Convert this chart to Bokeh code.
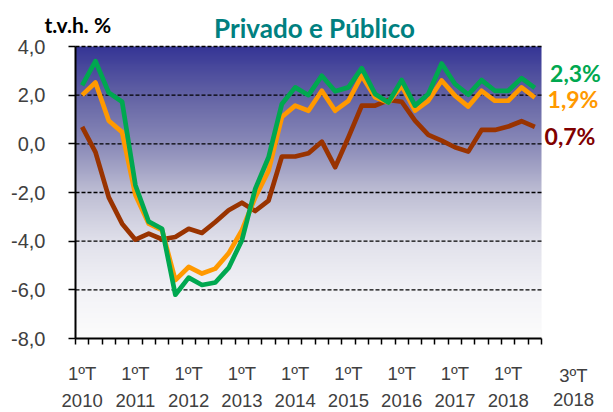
import numpy as np
from bokeh.plotting import figure
from bokeh.models import Range1d, FixedTicker, Label
from bokeh.embed import file_html
from bokeh.resources import INLINE

# Quarterly data 1ºT 2010 .. 3ºT 2018
quarters = [f"{q}ºT {y}" for y in range(2010, 2019) for q in range(1, 5)][:35]

total = [2.4, 3.4, 2.1, 1.73, -1.7, -3.2, -3.49, -6.2, -5.5, -5.8, -5.7, -5.1,
         -3.96, -1.85, -0.55, 1.64, 2.32, 2.0, 2.8, 2.16, 2.32, 3.11, 2.05, 1.7,
         2.62, 1.57, 2.05, 3.3, 2.46, 2.02, 2.62, 2.18, 2.18, 2.7, 2.3]
privado = [2.0, 2.52, 0.95, 0.48, -2.1, -3.28, -3.55, -5.6, -5.06, -5.33, -5.13, -4.5,
           -3.55, -2.2, -1.1, 1.1, 1.57, 1.36, 2.18, 1.36, 1.77, 2.8, 1.91, 1.7,
           2.39, 1.36, 1.77, 2.6, 1.98, 1.53, 2.18, 1.77, 1.77, 2.32, 1.9]
publico = [0.7, -0.34, -2.2, -3.28, -3.94, -3.69, -3.92, -3.83, -3.49, -3.66, -3.21, -2.73,
           -2.42, -2.76, -2.33, -0.52, -0.52, -0.39, 0.09, -0.96, 0.27, 1.57, 1.57, 1.8,
           1.73, 0.95, 0.37, 0.13, -0.14, -0.32, 0.57, 0.57, 0.71, 0.93, 0.7]

end_labels = ["2,3%", "1,9%", "0,7%"]
y_ticks = [-8, -6, -4, -2, 0, 2, 4]
y_tick_labels = ["-8,0", "-6,0", "-4,0", "-2,0", "0,0", "2,0", "4,0"]
x_tick_idx = [0, 4, 8, 12, 16, 20, 24, 28, 32]
x_tick_labels = ["1ºT\n2010", "1ºT\n2011", "1ºT\n2012", "1ºT\n2013", "1ºT\n2014",
                 "1ºT\n2015", "1ºT\n2016", "1ºT\n2017", "1ºT\n2018"]
last_label = ["3ºT", "2018"]

GREEN = "#00A850"
ORANGE = "#FF9900"
BROWN = "#993300"
DARKRED = "#800000"
TEAL = "#008080"
GRAY = "#404040"

n = len(quarters)
xs = list(range(n))
Y0, Y1 = -8, 4

# layout: plot area occupies pixels [75, 541] x [46, 338] of a 613x412 canvas
W, H = 613, 412
L, R, T, B = 75, 541, 46, 338
px_x = (R - L) / n
px_y = (B - T) / (Y1 - Y0)

def to_data(px, py):
    return (-0.5 + (px - L) / px_x, Y1 - (py - T) / px_y)

x_lo, y_hi = to_data(0, 0)
x_hi, y_lo = to_data(W, H)

p = figure(width=W, height=H, output_backend="svg", toolbar_location=None,
           x_range=Range1d(x_lo, x_hi), y_range=Range1d(y_lo, y_hi),
           min_border=0, min_border_left=0, min_border_right=0,
           min_border_top=0, min_border_bottom=0)
p.outline_line_color = None
p.background_fill_color = "white"
p.border_fill_color = "white"

# vertical gradient background of the plot area
stops_t = [0.0, 0.17, 0.34, 0.5, 0.67, 0.84, 1.0]
stops_c = [(54, 54, 150), (100, 100, 165), (140, 140, 185), (190, 190, 212),
           (225, 225, 235), (243, 243, 247), (252, 252, 252)]
N = 300
img = np.zeros((N, 1), dtype=np.uint32)
view = img.view(dtype=np.uint8).reshape((N, 1, 4))
for r in range(N):
    t = 1 - r / (N - 1)
    c = [np.interp(t, stops_t, [s[k] for s in stops_c]) for k in range(3)]
    view[r, 0, 0] = int(c[0]); view[r, 0, 1] = int(c[1]); view[r, 0, 2] = int(c[2]); view[r, 0, 3] = 255
p.image_rgba(image=[img], x=-0.5, y=Y0, dw=n, dh=Y1 - Y0)

# dashed gridlines limited to the plot area
grid_ys = [v for v in y_ticks if v != Y0]
p.segment(x0=[-0.5] * len(grid_ys), x1=[n - 0.5] * len(grid_ys), y0=grid_ys, y1=grid_ys,
          line_color="black", line_dash="4 2", line_width=1.3)

# series
p.line(xs, publico, line_color=BROWN, line_width=4.7, line_join="round")
p.line(xs, privado, line_color=ORANGE, line_width=4.7, line_join="round")
p.line(xs, total, line_color=GREEN, line_width=4.7, line_join="round")

p.xgrid.visible = False
p.ygrid.visible = False

# y axis
ya = p.yaxis[0]
ya.fixed_location = -0.5
ya.bounds = (Y0, Y1)
ya.ticker = FixedTicker(ticks=y_ticks)
ya.major_label_overrides = {t: l for t, l in zip(y_ticks, y_tick_labels)}
ya.major_tick_out = 7
ya.major_tick_in = 0
ya.minor_tick_out = 0
ya.minor_tick_in = 0
ya.axis_line_width = 2
ya.major_tick_line_width = 1.5
ya.major_label_text_font = "Liberation Sans"
ya.major_label_text_font_size = "20px"
ya.major_label_text_color = GRAY
ya.major_label_standoff = 23

# x axis
xa = p.xaxis[0]
xa.fixed_location = Y0
xa.bounds = (-0.5, n - 0.5)
xa.ticker = FixedTicker(ticks=x_tick_idx, minor_ticks=[i - 0.5 for i in range(n + 1)])
xa.major_label_overrides = {t: l for t, l in zip(x_tick_idx, x_tick_labels)}
xa.major_tick_out = 0
xa.major_tick_in = 0
xa.minor_tick_out = 6
xa.minor_tick_in = 0
xa.minor_tick_line_width = 1.5
xa.axis_line_width = 2
xa.major_label_text_font = "Liberation Sans"
xa.major_label_text_font_size = "18.5px"
xa.major_label_text_line_height = 1.3
xa.major_label_text_color = GRAY
xa.major_label_standoff = 18

def add_label(px, py, text, color, size, font="Lato", bold=True, align="center"):
    x, y = to_data(px, py)
    p.add_layout(Label(x=x, y=y, text=text, text_align=align, text_baseline="middle",
                       text_font=font, text_font_style="bold" if bold else "normal",
                       text_font_size=size, text_color=color))

# last quarter label
add_label(573, 375, last_label[0], GRAY, "18.5px", font="Liberation Sans", bold=False)
add_label(573, 398.5, last_label[1], GRAY, "18.5px", font="Liberation Sans", bold=False)

# end-of-series labels
add_label(575, 72.5, end_labels[0], GREEN, "23px")
add_label(572.5, 98.5, end_labels[1], ORANGE, "23px")
add_label(569.5, 135.5, end_labels[2], DARKRED, "23px")

# titles
add_label(314, 27, "Privado e Público", TEAL, "26px")
add_label(44, 23.5, "t.v.h. %", "black", "21px", align="left")

open("out.html", "w").write(file_html(p, INLINE))
